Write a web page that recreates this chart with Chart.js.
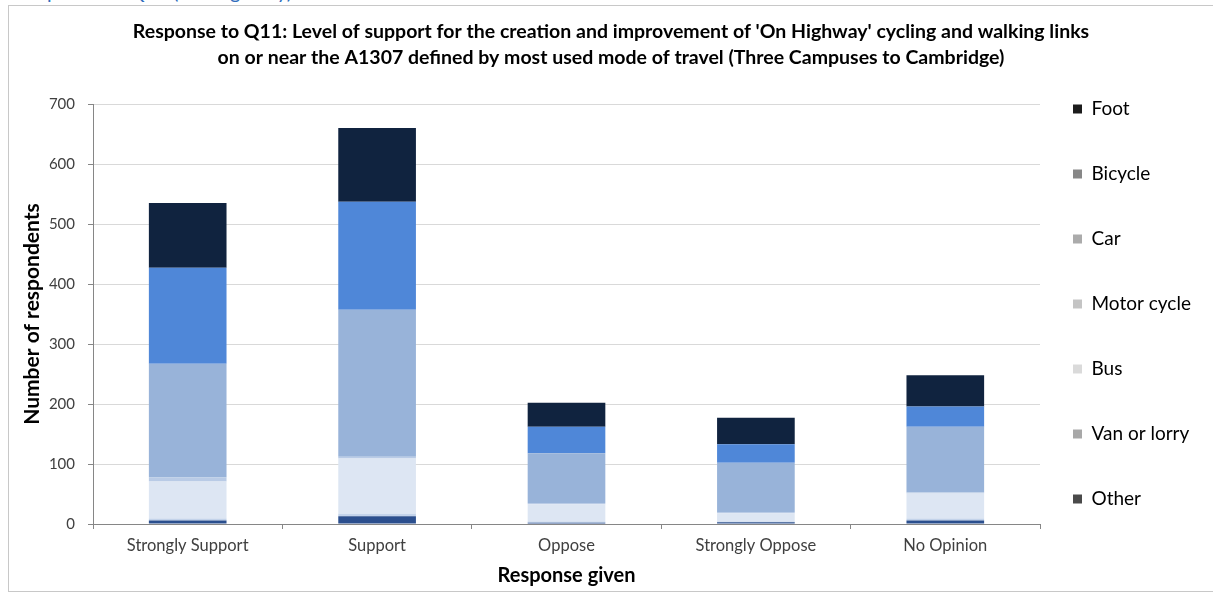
<!DOCTYPE html>
<html>
<head>
<meta charset="utf-8">
<script src="https://cdn.jsdelivr.net/npm/chart.js@4.4.1/dist/chart.umd.min.js"></script>
<style>
  html, body { margin: 0; padding: 0; background: #fff; }
  #wrap { position: relative; width: 1213px; height: 594px; overflow: hidden; }
  #frame { position: absolute; left: 8px; top: 5px; width: 1220px; height: 587px; border: 1px solid #c8c8c8; box-sizing: border-box; }
  #cut { position: absolute; left: 16px; top: -19px; font: 20px/20px Lato, sans-serif; color: #2f6ebd; white-space: nowrap; }
  #c { position: absolute; left: 0; top: 0; }
</style>
</head>
<body>
<div id="wrap">
  <div id="cut">Response to Q11 (On Highway)</div>
  <div id="frame"></div>
  <canvas id="c" width="1213" height="594"></canvas>
</div>
<script>
const categories = ['Strongly Support', 'Support', 'Oppose', 'Strongly Oppose', 'No Opinion'];
const other      = [6, 13, 2, 3, 6];
const vanLorry   = [3, 4, 2, 1, 3];
const bus        = [62, 92, 29, 14, 42];
const motorCycle = [7, 3, 2, 2, 2];
const car        = [189, 245, 83, 82, 109];
const bicycle    = [160, 180, 44, 31, 34];
const foot       = [108, 123, 40, 44, 52];
const yTicks     = [0, 100, 200, 300, 400, 500, 600, 700];

const titleLines = [
  "Response to Q11: Level of support for the creation and improvement of 'On Highway' cycling and walking links",
  "on or near the A1307 defined by most used mode of travel (Three Campuses to Cambridge)"
];

const series = [
  { label: 'Other',        data: other,      color: '#2b4f8e', legend: '#4a4a4a' },
  { label: 'Van or lorry', data: vanLorry,   color: '#c3d3ea', legend: '#a8a8a8' },
  { label: 'Bus',          data: bus,        color: '#dde6f3', legend: '#dadada' },
  { label: 'Motor cycle',  data: motorCycle, color: '#b9cbe6', legend: '#c4c4c4' },
  { label: 'Car',          data: car,        color: '#98b3d9', legend: '#ababab' },
  { label: 'Bicycle',      data: bicycle,    color: '#4f87d8', legend: '#878787' },
  { label: 'Foot',         data: foot,       color: '#10233f', legend: '#1c1c1c' }
];

const FONT = 'Lato, "Open Sans", sans-serif';
const LEGEND_PAD = 46;

const layoutFix = {
  id: 'layoutFix',
  beforeUpdate(chart) {
    const lg = chart.legend;
    if (lg && !lg._patched) {
      const orig = lg.fit;
      lg.fit = function () { orig.call(this); this.width = 173; };
      lg._patched = true;
    }
  },
  afterLayout(chart) {
    const lg = chart.legend;
    if (!lg) return;
    const w = lg.right - lg.left;
    lg.left = 1073 - LEGEND_PAD;
    lg.right = lg.left + w;
    lg.top = 0;
    lg.bottom = 608;
  }
};

new Chart(document.getElementById('c'), {
  type: 'bar',
  data: {
    labels: categories,
    datasets: series.map(s => ({
      label: s.label,
      data: s.data,
      backgroundColor: s.color,
      borderWidth: 0,
      legendColor: s.legend,
      categoryPercentage: 1,
      barPercentage: 0.41
    }))
  },
  plugins: [layoutFix],
  options: {
    responsive: false,
    animation: false,
    devicePixelRatio: 1,
    layout: { padding: { left: 9, right: 0, top: 0, bottom: 0 } },
    plugins: {
      title: {
        display: true,
        text: titleLines,
        color: '#000',
        font: { family: FONT, size: 19.5, weight: 'bold', lineHeight: '26px' },
        padding: { top: 19, bottom: 33 }
      },
      legend: {
        position: 'right',
        reverse: true,
        labels: {
          color: '#404040',
          font: { family: FONT, size: 19 },
          boxWidth: 9,
          boxHeight: 9,
          padding: LEGEND_PAD,
          generateLabels(chart) {
            return chart.data.datasets.map((ds, i) => ({
              text: ds.label,
              fillStyle: ds.legendColor,
              strokeStyle: ds.legendColor,
              lineWidth: 0,
              hidden: false,
              datasetIndex: i
            }));
          }
        }
      },
      tooltip: { enabled: false }
    },
    scales: {
      x: {
        stacked: true,
        grid: { display: true, drawOnChartArea: false, drawTicks: true, tickLength: 5, color: '#868686' },
        border: { display: true, color: '#868686' },
        ticks: { color: '#404040', font: { family: FONT, size: 16.5 }, padding: 7 },
        title: {
          display: true,
          text: 'Response given',
          color: '#000',
          font: { family: FONT, size: 20, weight: 'bold' },
          padding: { top: 4, bottom: 6 }
        },
        afterFit(scale) { scale.height = 70; }
      },
      y: {
        stacked: true,
        min: 0,
        max: 700,
        afterBuildTicks(scale) { scale.ticks = yTicks.map(v => ({ value: v })); },
        grid: { color: '#d9d9d9', tickLength: 5, tickColor: '#868686' },
        border: { display: true, color: '#868686' },
        ticks: { color: '#404040', font: { family: FONT, size: 15 }, padding: 13 },
        title: {
          display: true,
          text: 'Number of respondents',
          color: '#000',
          font: { family: FONT, size: 21, weight: 'bold' },
          padding: { top: 11, bottom: 0 }
        },
        afterFit(scale) { scale.width = 84; }
      }
    }
  }
});
</script>
</body>
</html>
